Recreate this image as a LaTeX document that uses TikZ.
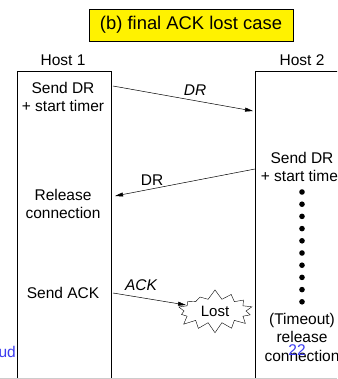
\documentclass[tikz,border=0pt]{standalone}
\usepackage{fontspec}
\setmainfont{Liberation Sans}
\usetikzlibrary{shapes.symbols,arrows.meta}
\definecolor{slideblue}{RGB}{60,60,240}
\tikzset{
  txt/.style={font=\fontsize{15.5}{18.5}\selectfont, align=center, inner sep=0pt},
  lbl/.style={font=\fontsize{15.5}{18.5}\selectfont, inner sep=0pt},
  msg/.style={-{Triangle[length=8pt,width=4pt]}, line width=0.5pt},
  hostbox/.style={draw, line width=0.6pt, anchor=north west, inner sep=0pt},
  dot/.style={circle, fill=black, inner sep=0pt, minimum size=5.6pt}
}
\begin{document}
\begin{tikzpicture}[x=1pt,y=-1pt]
\useasboundingbox (0,0) rectangle (337,379);
\clip (0,0) rectangle (337,379);
\fill[white] (0,0) rectangle (337,379);
% title
\node[draw, fill=yellow, line width=0.6pt, minimum width=204pt, minimum height=32pt,
      font=\fontsize{18.4}{22}\selectfont] (title) at (191,25) {(b) final ACK lost case};
% host labels
\node[lbl] (h1) at (63,60) {Host 1};
\node[lbl] (h2) at (302,60) {Host 2};
% host boxes
\node[hostbox, minimum width=94pt, minimum height=320pt] (box1) at (17,71) {};
\node[hostbox, minimum width=100pt, minimum height=320pt] (box2) at (255,71) {};
\draw[gray!40, line width=0.8pt] (0,378) -- (337,378);
% host 1 texts
\node[txt] (s1) at (63,97) {Send DR\\+ start timer};
\node[txt] (rel) at (63,204) {Release\\connection};
\node[txt] (ack) at (63,293) {Send ACK};
% host 2 texts
\node[txt] (s2) at (302,167) {Send DR\\+ start timer};
\node[txt] (tmo) at (302,337) {(Timeout)\\release\\connection};
% dots
\foreach \i in {0,...,9} {
  \node[dot] (d\i) at (302,{192+12.2*\i}) {};
}
% lost
\node[starburst, draw, line width=0.4pt, starburst points=14, starburst point height=10pt,
      random starburst=7, minimum width=82pt, minimum height=44pt, inner sep=0pt,
      font=\fontsize{15}{18}\selectfont] (lost) at (215,311) {Lost};
% connector end points
\coordinate (a1s) at (113,86);
\coordinate (a1e) at (253,111);
\coordinate (a2s) at (255,169);
\coordinate (a2e) at (115,196);
\coordinate (a3s) at (113,293);
\coordinate (a3e) at (186,305);
\draw[msg] (a1s) -- (a1e);
\draw[msg] (a2s) -- (a2e);
\draw[msg] (a3s) -- (a3e);
% message labels
\node[lbl, font=\fontsize{15.5}{18.5}\selectfont\itshape] (l1) at (195,90) {DR};
\node[lbl] (l2) at (152,180) {DR};
\node[lbl, font=\fontsize{15.5}{18.5}\selectfont\itshape] (l3) at (141,285) {ACK};
% slide artifacts
\node[lbl, text=slideblue, anchor=east] (ud) at (16,352) {ud};
\node[lbl, text=slideblue] (pg) at (297,350) {22};
\end{tikzpicture}
\end{document}
